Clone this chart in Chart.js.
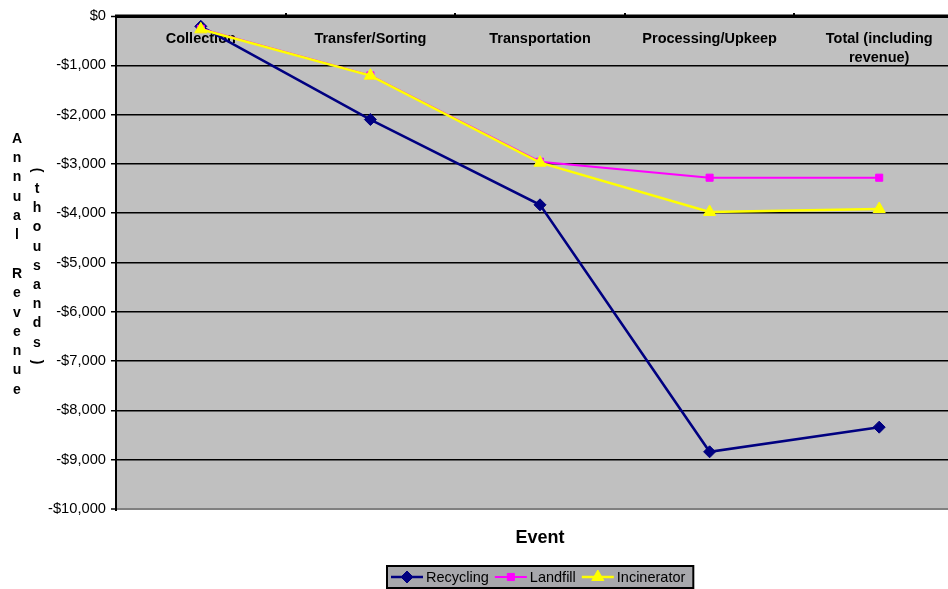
<!DOCTYPE html>
<html>
<head>
<meta charset="utf-8">
<script src="https://cdn.jsdelivr.net/npm/chart.js@4"></script>
<style>
  html, body { margin: 0; padding: 0; overflow: hidden; background: #fff; }
  canvas { display: block; }
</style>
</head>
<body>
<canvas id="chart" width="972" height="589"></canvas>
<script>
// Stages of waste handling (category axis)
const categories = ['Collection', 'Transfer/Sorting', 'Transportation', 'Processing/Upkeep', ['Total (including', 'revenue)']];

// Annual revenue per stage, in thousands of dollars
const recycling   = [-210, -2100, -3830, -8840, -8340];
const landfill    = [-260, -1205, -2955, -3280, -3280];
const incinerator = [-270, -1210, -2975, -3975, -3915];

// Value axis ticks and their labels
const revenueTicks = [0, -1000, -2000, -3000, -4000, -5000, -6000, -7000, -8000, -9000, -10000];
const revenueTickLabels = ['$0', '-$1,000', '-$2,000', '-$3,000', '-$4,000', '-$5,000', '-$6,000', '-$7,000', '-$8,000', '-$9,000', '-$10,000'];

// Axis titles
const yTitleMain = 'Annual Revenue';
const yTitleUnit = '(thousands)';
const xTitle = 'Event';

const FONT = "Arial, 'Liberation Sans', sans-serif";

function drawMarker(ctx, style, radius, x, y, color) {
  ctx.save();
  ctx.fillStyle = color;
  ctx.strokeStyle = color;
  ctx.lineWidth = 1;
  if (Chart.helpers && Chart.helpers.drawPoint) {
    Chart.helpers.drawPoint(ctx, { pointStyle: style, radius: radius, rotation: 0, borderWidth: 1 }, x, y);
  } else {
    ctx.beginPath();
    if (style === 'rectRot') {
      ctx.moveTo(x, y - radius); ctx.lineTo(x + radius, y); ctx.lineTo(x, y + radius); ctx.lineTo(x - radius, y);
    } else if (style === 'rect') {
      const s = radius * Math.SQRT1_2;
      ctx.rect(x - s, y - s, 2 * s, 2 * s);
    } else {
      ctx.moveTo(x, y - radius); ctx.lineTo(x + radius * 0.866, y + radius / 2); ctx.lineTo(x - radius * 0.866, y + radius / 2);
    }
    ctx.closePath(); ctx.fill(); ctx.stroke();
  }
  ctx.restore();
}

const decor = {
  id: 'decor',
  beforeDraw(chart) {
    const { ctx, chartArea: a } = chart;
    ctx.save();
    ctx.fillStyle = '#ffffff';
    ctx.fillRect(0, 0, chart.width, chart.height);
    ctx.fillStyle = '#c0c0c0';
    ctx.fillRect(a.left, a.top, a.right - a.left, a.bottom - a.top);
    ctx.restore();
  },
  beforeDatasetsDraw(chart) {
    // category labels sit just under the zero line, inside the plot
    const { ctx, chartArea: a, scales } = chart;
    const xs = scales.x;
    ctx.save();
    ctx.fillStyle = '#000';
    ctx.font = 'bold 14.5px ' + FONT;
    ctx.textAlign = 'center';
    ctx.textBaseline = 'middle';
    categories.forEach((label, i) => {
      const x = xs.getPixelForValue(i);
      const lines = Array.isArray(label) ? label : [label];
      lines.forEach((ln, j) => ctx.fillText(ln, x, a.top + 23 + j * 19));
    });
    ctx.restore();
  },
  afterDraw(chart) {
    const { ctx, chartArea: a, scales } = chart;
    const xs = scales.x;
    ctx.save();

    // category axis along the zero line, with its tick marks
    ctx.strokeStyle = '#000';
    ctx.lineWidth = 3;
    ctx.beginPath();
    ctx.moveTo(a.left - 1, a.top);
    ctx.lineTo(a.right, a.top);
    ctx.stroke();
    const half = (xs.getPixelForValue(1) - xs.getPixelForValue(0)) / 2;
    ctx.lineWidth = 2;
    for (let i = 1; i < categories.length; i++) {
      const x = Math.round(xs.getPixelForValue(i) - half);
      ctx.beginPath();
      ctx.moveTo(x, a.top);
      ctx.lineTo(x, a.top - 3);
      ctx.stroke();
    }

    // stacked vertical value-axis title
    ctx.fillStyle = '#000';
    ctx.font = 'bold 14px ' + FONT;
    ctx.textAlign = 'center';
    ctx.textBaseline = 'middle';
    [...yTitleMain].forEach((ch, i) => {
      if (ch !== ' ') ctx.fillText(ch, 17, 139 + i * 19.3);
    });
    [...yTitleUnit].forEach((ch, i) => {
      const y = 170 + i * 19.2;
      if (ch === '(' || ch === ')') {
        ctx.save();
        ctx.translate(37, y);
        ctx.rotate(Math.PI / 2);
        ctx.fillText(ch, 0, 0);
        ctx.restore();
      } else {
        ctx.fillText(ch, 37, y);
      }
    });

    // category-axis title
    ctx.font = 'bold 18px ' + FONT;
    ctx.fillText(xTitle, (a.left + a.right) / 2, 538);

    // legend
    const items = chart.data.datasets.map(ds => ({
      text: ds.label, color: ds.borderColor, style: ds.pointStyle, radius: ds.pointRadius, width: ds.borderWidth
    }));
    ctx.font = '14.5px ' + FONT;
    const lineLen = 32, gapLine = 3, gapItem = 6, padX = 4;
    let total = padX * 2;
    items.forEach((it, i) => {
      total += lineLen + gapLine + ctx.measureText(it.text).width + (i < items.length - 1 ? gapItem : 0);
    });
    total += 4;
    const cx = (a.left + a.right) / 2;
    const bx = Math.round(cx - total / 2), by = 566, bh = 22;
    ctx.fillStyle = '#a8a8ac';
    ctx.fillRect(bx, by, total, bh);
    ctx.strokeStyle = '#000';
    ctx.lineWidth = 2;
    ctx.strokeRect(bx, by, total, bh);
    let x = bx + padX;
    const ly = by + bh / 2;
    items.forEach(it => {
      ctx.strokeStyle = it.color;
      ctx.lineWidth = it.width;
      ctx.beginPath();
      ctx.moveTo(x, ly);
      ctx.lineTo(x + lineLen, ly);
      ctx.stroke();
      drawMarker(ctx, it.style, it.radius, x + lineLen / 2, ly, it.color);
      x += lineLen + gapLine;
      ctx.fillStyle = '#000';
      ctx.textAlign = 'left';
      ctx.fillText(it.text, x, ly + 1);
      x += ctx.measureText(it.text).width + gapItem;
    });

    ctx.restore();
  }
};

new Chart(document.getElementById('chart'), {
  type: 'line',
  data: {
    labels: categories,
    datasets: [
      { label: 'Recycling', data: recycling, borderColor: '#000080', backgroundColor: '#000080',
        borderWidth: 2.5, pointStyle: 'rectRot', pointRadius: 6, pointBorderWidth: 1, order: 3 },
      { label: 'Landfill', data: landfill, borderColor: '#ff00ff', backgroundColor: '#ff00ff',
        borderWidth: 2, pointStyle: 'rect', pointRadius: 5, pointBorderWidth: 1, order: 2 },
      { label: 'Incinerator', data: incinerator, borderColor: '#ffff00', backgroundColor: '#ffff00',
        borderWidth: 2.5, pointStyle: 'triangle', pointRadius: 7, pointBorderWidth: 1, order: 1 }
    ]
  },
  options: {
    responsive: false,
    animation: false,
    devicePixelRatio: 1,
    layout: { padding: { top: 16, right: 3, left: 0, bottom: 0 } },
    elements: { line: { tension: 0 } },
    plugins: { legend: { display: false }, tooltip: { enabled: false }, title: { display: false } },
    scales: {
      x: {
        type: 'category',
        position: 'bottom',
        offset: true,
        grid: { display: false },
        border: { display: false },
        ticks: { display: false },
        afterFit(s) { s.height = 80; }
      },
      y: {
        min: -10000,
        max: 0,
        afterBuildTicks(s) { s.ticks = revenueTicks.map(v => ({ value: v })); },
        ticks: {
          color: '#000',
          padding: 5,
          font: { size: 14.7, family: FONT },
          callback: v => revenueTickLabels[revenueTicks.indexOf(v)]
        },
        grid: {
          color: c => (c.tick && c.tick.value === -10000) ? '#808080' : '#000',
          lineWidth: c => (c.tick && c.tick.value === 0) ? 3 : (c.tick && c.tick.value === -10000 ? 2 : 1.5),
          tickColor: '#000',
          tickLength: 5,
          tickWidth: 1.5
        },
        border: { color: '#000', width: 2 },
        afterFit(s) { s.width = 116; }
      }
    }
  },
  plugins: [decor]
});
</script>
</body>
</html>
